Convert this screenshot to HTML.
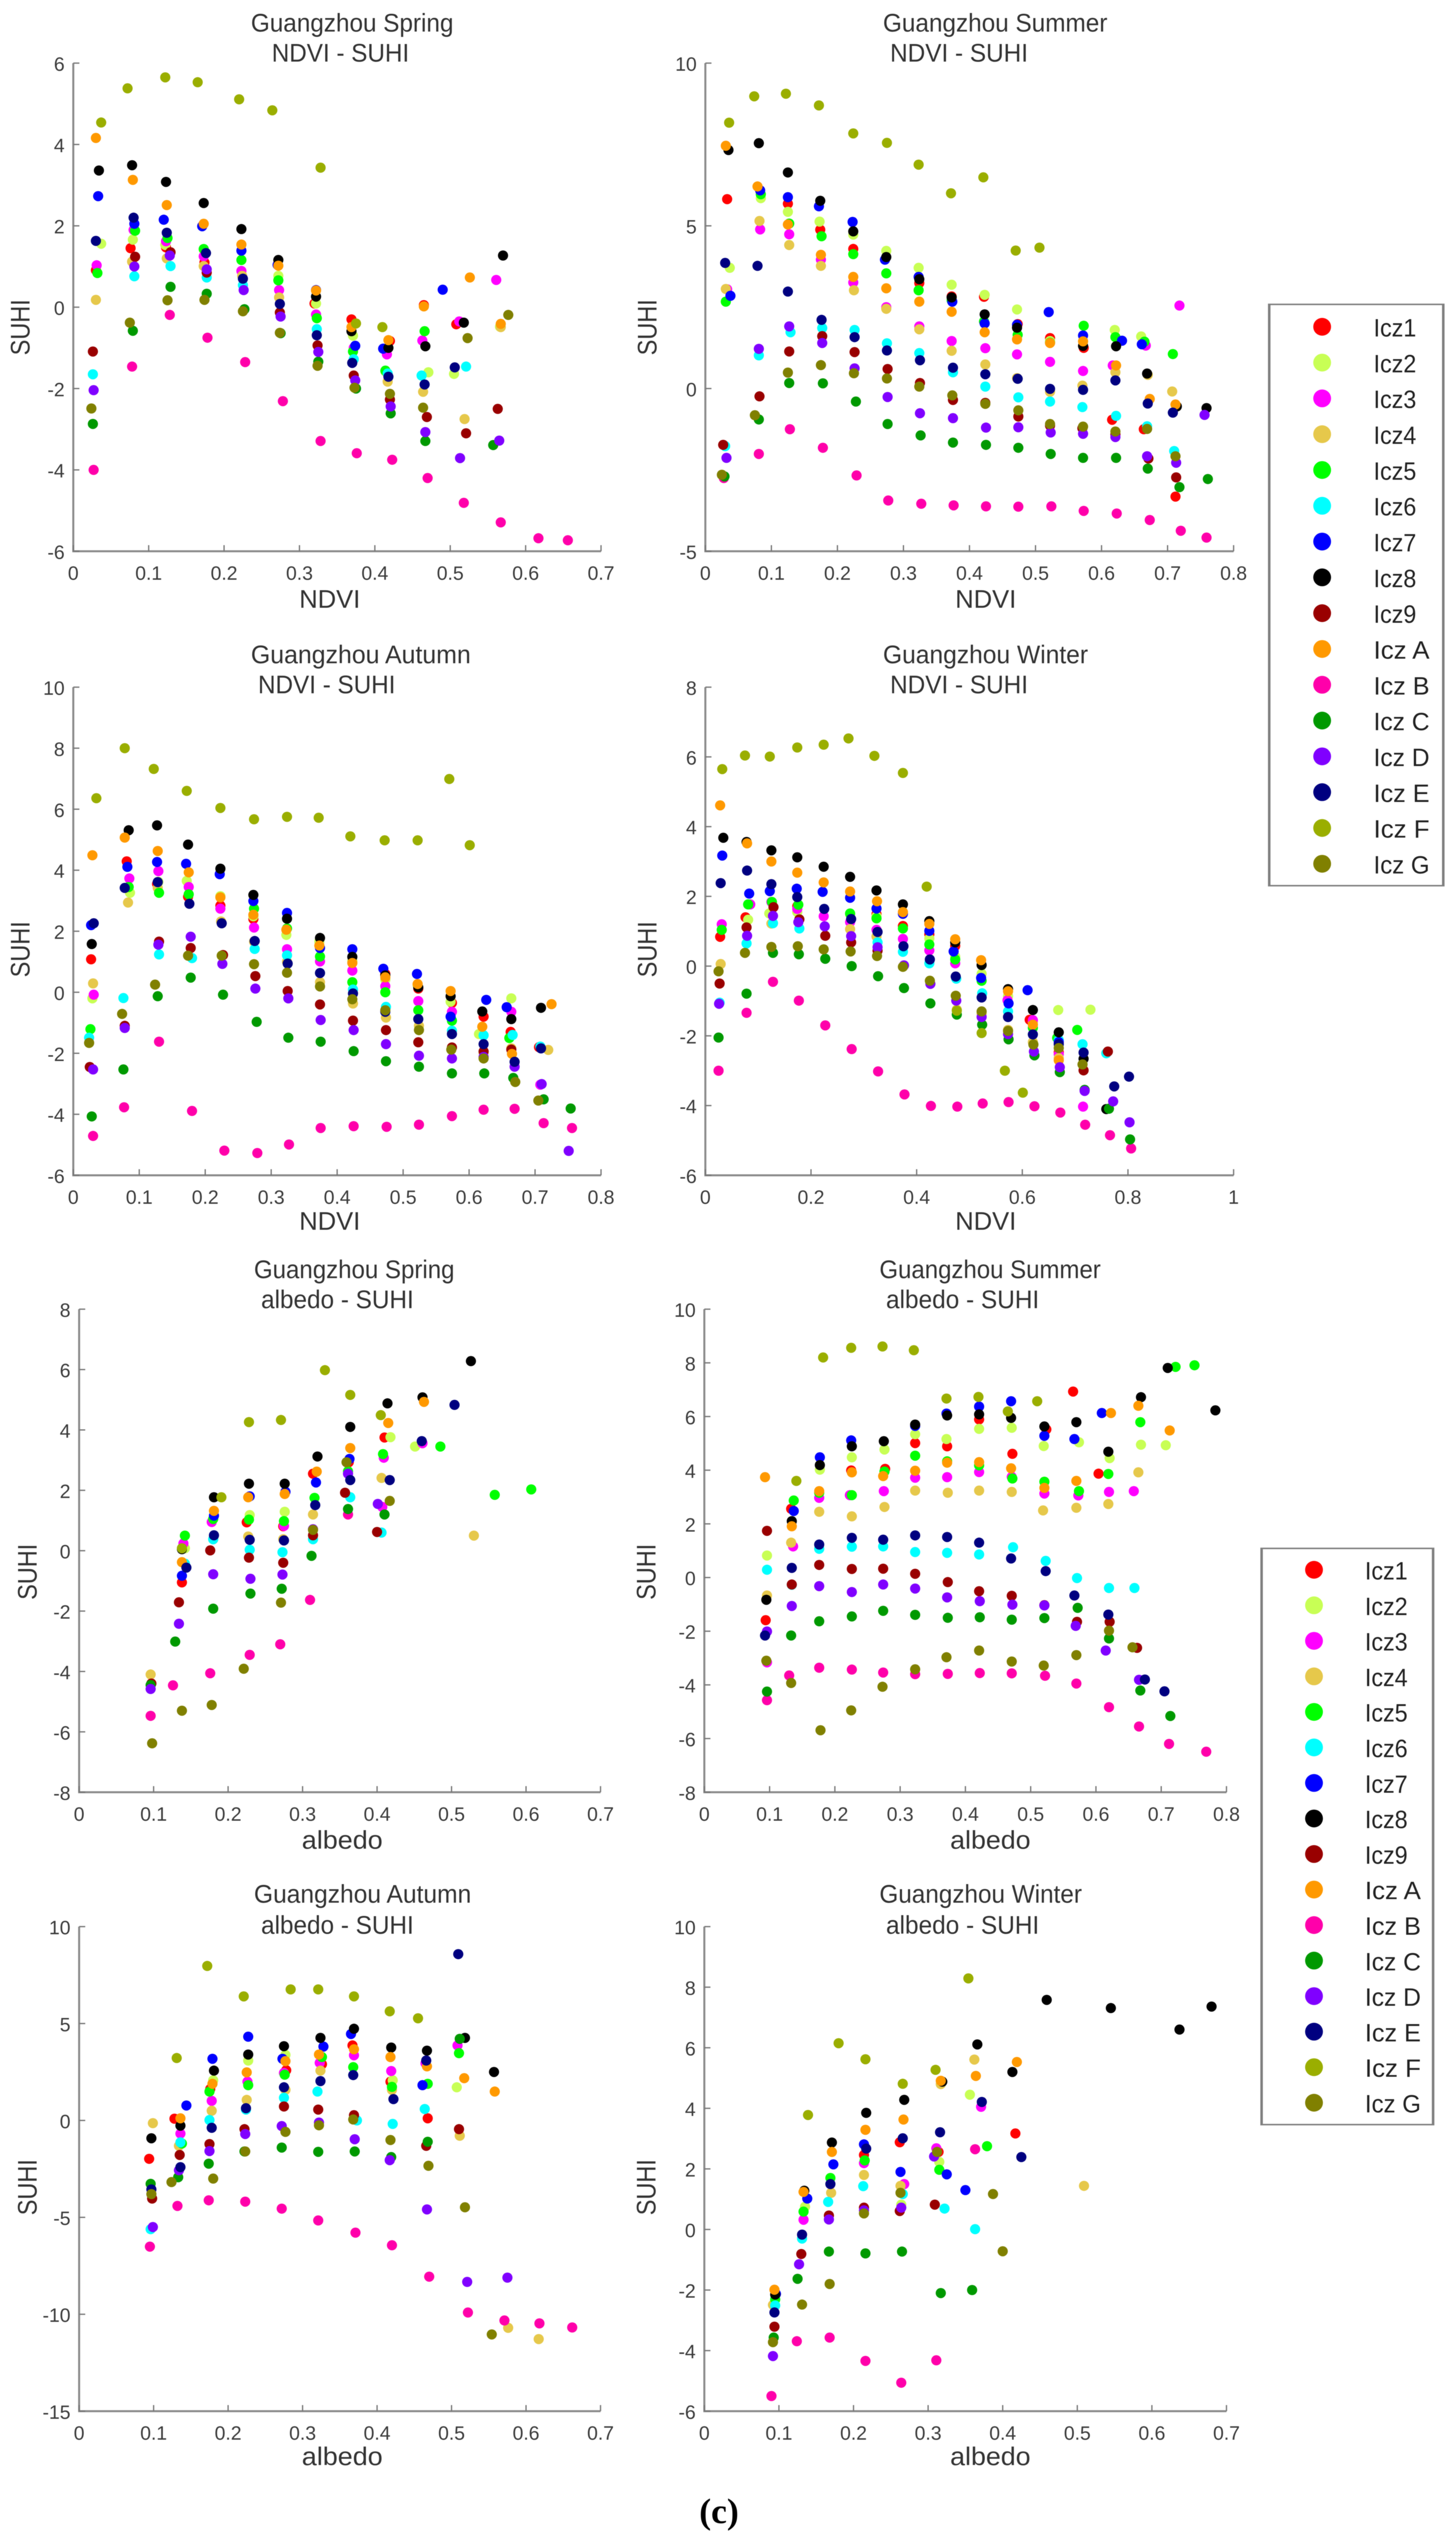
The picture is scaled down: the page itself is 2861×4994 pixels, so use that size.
<!DOCTYPE html>
<html lang="en">
<head>
<meta charset="utf-8">
<title>Guangzhou LCZ SUHI scatter plots</title>
<style>
html,body{margin:0;padding:0;background:#fff;}
svg{display:block;filter:blur(0.6px);}
text{font-family:"Liberation Sans",Arial,sans-serif;fill:#333;}
.title{font-size:50px;}
.axis-label{font-size:50px;}
.y-label{font-size:53px;}
.tick-label{font-size:38px;fill:#3c3c3c;}
.legend-label{font-size:49px;fill:#222;}
.caption{font-family:"Liberation Serif",serif;font-weight:bold;font-size:70px;fill:#000;}
</style>
</head>
<body>
<svg id="figure" xmlns="http://www.w3.org/2000/svg" width="2861" height="4994" viewBox="0 0 2861 4994">
<rect x="0" y="0" width="2861" height="4994" fill="#fff"/>

<g id="ndvi-spring">
<text class="title" x="493" y="62" textLength="398" lengthAdjust="spacingAndGlyphs">Guangzhou Spring</text>
<text class="title" x="534" y="121" textLength="270" lengthAdjust="spacingAndGlyphs">NDVI - SUHI</text>
<text class="axis-label" x="588" y="1194" textLength="120" lengthAdjust="spacingAndGlyphs">NDVI</text>
<text class="y-label" transform="translate(58,698) rotate(-90)" textLength="110" lengthAdjust="spacingAndGlyphs">SUHI</text>
</g>
<g id="ndvi-summer">
<text class="title" x="1735" y="62" textLength="441" lengthAdjust="spacingAndGlyphs">Guangzhou Summer</text>
<text class="title" x="1749" y="121" textLength="271" lengthAdjust="spacingAndGlyphs">NDVI - SUHI</text>
<text class="axis-label" x="1877" y="1194" textLength="120" lengthAdjust="spacingAndGlyphs">NDVI</text>
<text class="y-label" transform="translate(1290,698) rotate(-90)" textLength="110" lengthAdjust="spacingAndGlyphs">SUHI</text>
</g>
<g id="ndvi-autumn">
<text class="title" x="493" y="1303" textLength="432" lengthAdjust="spacingAndGlyphs">Guangzhou Autumn</text>
<text class="title" x="507" y="1362" textLength="270" lengthAdjust="spacingAndGlyphs">NDVI - SUHI</text>
<text class="axis-label" x="588" y="2416" textLength="120" lengthAdjust="spacingAndGlyphs">NDVI</text>
<text class="y-label" transform="translate(58,1920) rotate(-90)" textLength="110" lengthAdjust="spacingAndGlyphs">SUHI</text>
</g>
<g id="ndvi-winter">
<text class="title" x="1735" y="1303" textLength="403" lengthAdjust="spacingAndGlyphs">Guangzhou Winter</text>
<text class="title" x="1749" y="1362" textLength="271" lengthAdjust="spacingAndGlyphs">NDVI - SUHI</text>
<text class="axis-label" x="1877" y="2416" textLength="120" lengthAdjust="spacingAndGlyphs">NDVI</text>
<text class="y-label" transform="translate(1290,1920) rotate(-90)" textLength="110" lengthAdjust="spacingAndGlyphs">SUHI</text>
</g>
<g id="albedo-spring">
<text class="title" x="499" y="2511" textLength="394" lengthAdjust="spacingAndGlyphs">Guangzhou Spring</text>
<text class="title" x="513" y="2570" textLength="300" lengthAdjust="spacingAndGlyphs">albedo - SUHI</text>
<text class="axis-label" x="593" y="3632" textLength="159" lengthAdjust="spacingAndGlyphs">albedo</text>
<text class="y-label" transform="translate(72,3143) rotate(-90)" textLength="110" lengthAdjust="spacingAndGlyphs">SUHI</text>
</g>
<g id="albedo-summer">
<text class="title" x="1728" y="2511" textLength="435" lengthAdjust="spacingAndGlyphs">Guangzhou Summer</text>
<text class="title" x="1741" y="2570" textLength="301" lengthAdjust="spacingAndGlyphs">albedo - SUHI</text>
<text class="axis-label" x="1867" y="3632" textLength="158" lengthAdjust="spacingAndGlyphs">albedo</text>
<text class="y-label" transform="translate(1288,3143) rotate(-90)" textLength="110" lengthAdjust="spacingAndGlyphs">SUHI</text>
</g>
<g id="albedo-autumn">
<text class="title" x="499" y="3738" textLength="427" lengthAdjust="spacingAndGlyphs">Guangzhou Autumn</text>
<text class="title" x="513" y="3799" textLength="300" lengthAdjust="spacingAndGlyphs">albedo - SUHI</text>
<text class="axis-label" x="593" y="4843" textLength="159" lengthAdjust="spacingAndGlyphs">albedo</text>
<text class="y-label" transform="translate(72,4352) rotate(-90)" textLength="110" lengthAdjust="spacingAndGlyphs">SUHI</text>
</g>
<g id="albedo-winter">
<text class="title" x="1728" y="3738" textLength="398" lengthAdjust="spacingAndGlyphs">Guangzhou Winter</text>
<text class="title" x="1741" y="3799" textLength="301" lengthAdjust="spacingAndGlyphs">albedo - SUHI</text>
<text class="axis-label" x="1867" y="4843" textLength="158" lengthAdjust="spacingAndGlyphs">albedo</text>
<text class="y-label" transform="translate(1288,4352) rotate(-90)" textLength="110" lengthAdjust="spacingAndGlyphs">SUHI</text>
</g>

<g id="legend-top"></g>
<g id="legend-bottom"></g>
<text class="caption" x="1374" y="4957">(c)</text>
</svg>

<script>
const seriesNames = ["Icz1","Icz2","Icz3","Icz4","Icz5","Icz6","Icz7","Icz8","Icz9","Icz A","Icz B","Icz C","Icz D","Icz E","Icz F","Icz G"];
const seriesColors = ["#ff0000","#c8ff55","#ff00ff","#e6c84b","#00ff00","#00ffff","#0000ff","#000000","#990000","#ff9900","#ff00aa","#009900","#8000ff","#000080","#9aae00","#808000"];

const ticks0to7 = [0,0.1,0.2,0.3,0.4,0.5,0.6,0.7];
const ticks0to8 = [0,0.1,0.2,0.3,0.4,0.5,0.6,0.7,0.8];
const ticks0to1 = [0,0.2,0.4,0.6,0.8,1];
const yTicksSpringNdvi = [-6,-4,-2,0,2,4,6];
const yTicksSummerNdvi = [-5,0,5,10];
const yTicksAutumnNdvi = [-6,-4,-2,0,2,4,6,8,10];
const yTicksWinterNdvi = [-6,-4,-2,0,2,4,6,8];
const yTicksSpringAlbedo = [-8,-6,-4,-2,0,2,4,6,8];
const yTicksSummerAlbedo = [-8,-6,-4,-2,0,2,4,6,8,10];
const yTicksAutumnAlbedo = [-15,-10,-5,0,5,10];
const yTicksWinterAlbedo = [-6,-4,-2,0,2,4,6,8,10];

/* Each data array lists one [x, SUHI] list per series, in seriesNames order. */
const ndviSpring = [
[[.03,.91],[.076,1.45],[.123,1.47],[.174,1.1],[.32,.09],[.369,-.3],[.42,-.83],[.465,.05],[.508,-.42]],
[[.037,1.56],[.079,1.66],[.122,1.53],[.173,1.42],[.272,.77],[.322,.09],[.371,-.7],[.414,-1.58],[.471,-1.6],[.505,-1.64],[.566,-.48]],
[[.031,1.03],[.08,1.9],[.123,1.62],[.173,1.25],[.223,.89],[.273,.42],[.322,-.18],[.372,-1],[.416,-1.16],[.463,-.82],[.512,-.35],[.561,.67]],
[[.03,.18],[.078,1.12],[.124,1.2],[.173,1.01],[.224,.77],[.273,.24],[.417,-1.83],[.464,-2.08],[.519,-2.75],[.567,-.49]],
[[.032,.84],[.082,1.88],[.125,1.7],[.173,1.43],[.223,1.16],[.272,.66],[.323,-.27],[.371,-1.09],[.414,-1.56],[.466,-.59]],
[[.026,-1.65],[.081,.76],[.129,1.01],[.177,.73],[.225,.54],[.323,-.54],[.372,-1.28],[.417,-1.63],[.462,-1.68],[.521,-1.46]],
[[.033,2.73],[.081,2.05],[.12,2.15],[.171,1.99],[.223,1.39],[.271,1.04],[.322,.42],[.374,-.95],[.411,-1.02],[.49,.43]],
[[.034,3.36],[.078,3.49],[.123,3.08],[.173,2.56],[.223,1.92],[.272,1.16],[.322,.26],[.369,-.59],[.418,-1],[.467,-.96],[.518,-.38],[.57,1.27]],
[[.026,-1.09],[.082,1.24],[.129,1.35],[.177,.85],[.274,-.13],[.324,-.94],[.372,-1.68],[.42,-2.27],[.469,-2.7],[.521,-3.1],[.563,-2.5]],
[[.03,4.16],[.079,3.13],[.124,2.51],[.173,2.05],[.223,1.54],[.272,1.02],[.322,.41],[.369,-.49],[.418,-.81],[.465,.02],[.526,.73],[.567,-.41]],
[[.027,-4],[.078,-1.46],[.128,-.19],[.178,-.75],[.228,-1.35],[.278,-2.31],[.328,-3.29],[.376,-3.59],[.423,-3.75],[.47,-4.2],[.518,-4.81],[.567,-5.29],[.617,-5.68],[.656,-5.73]],
[[.026,-2.87],[.079,-.58],[.129,.5],[.177,.33],[.227,-.05],[.275,-.64],[.325,-1.34],[.375,-2],[.421,-2.61],[.467,-3.29],[.557,-3.39]],
[[.027,-2.04],[.081,1],[.128,1.27],[.177,.93],[.226,.42],[.275,-.23],[.325,-1.1],[.374,-1.8],[.421,-2.44],[.467,-3.07],[.513,-3.71],[.565,-3.28]],
[[.03,1.63],[.08,2.2],[.124,1.83],[.176,1.33],[.225,.7],[.274,.08],[.323,-.69],[.37,-1.37],[.418,-1.71],[.466,-1.9],[.506,-1.48]],
[[.037,4.54],[.072,5.38],[.122,5.65],[.165,5.53],[.22,5.11],[.264,4.84],[.328,3.43],[.375,-.4],[.41,-.49]],
[[.024,-2.49],[.075,-.38],[.125,.17],[.174,.18],[.225,-.1],[.274,-.63],[.324,-1.44],[.373,-1.98],[.42,-2.13],[.464,-2.47],[.523,-.76],[.577,-.19]]
];
const ndviSummer = [
[[.033,5.82],[.125,5.68],[.174,4.88],[.224,4.29],[.324,3.24],[.373,2.83],[.422,2.82],[.473,1.98],[.522,1.55],[.573,1.25],[.616,-.96],[.664,-1.25],[.712,-3.32]],
[[.037,3.71],[.084,5.85],[.125,5.43],[.173,5.13],[.224,4.73],[.274,4.23],[.323,3.71],[.373,3.19],[.423,2.88],[.472,2.43],[.522,1.46],[.62,1.8],[.66,1.6]],
[[.033,3.05],[.083,4.89],[.127,4.74],[.175,3.96],[.224,3.26],[.274,2.5],[.324,1.91],[.373,1.46],[.424,1.24],[.472,1.05],[.522,.82],[.572,.54],[.617,.71],[.667,1.32],[.718,2.55]],
[[.031,3.06],[.082,5.15],[.127,4.41],[.175,3.77],[.225,3.02],[.274,2.45],[.324,1.82],[.373,1.16],[.424,.74],[.472,.32],[.522,-.1],[.571,.09],[.621,.5],[.67,.42],[.707,-.09]],
[[.031,2.67],[.084,5.97],[.127,5.07],[.176,4.68],[.224,4.13],[.274,3.54],[.323,3.02],[.373,2.71],[.422,2.06],[.473,1.65],[.522,1.41],[.573,1.93],[.621,1.58],[.665,1.44],[.708,1.06]],
[[.03,-1.77],[.081,1.02],[.129,1.73],[.177,1.86],[.226,1.8],[.275,1.39],[.324,1.09],[.375,.5],[.424,.06],[.474,-.27],[.522,-.4],[.571,-.57],[.622,-.84],[.669,-1.16],[.71,-1.92]],
[[.038,2.85],[.083,6.09],[.125,5.88],[.172,5.6],[.223,5.12],[.272,3.96],[.323,3.43],[.374,2.67],[.423,2],[.472,1.96],[.52,2.35],[.572,1.63],[.631,1.47],[.661,1.36]],
[[.035,7.33],[.081,7.54],[.125,6.64],[.174,5.77],[.224,4.83],[.274,4.04],[.324,3.36],[.373,2.8],[.423,2.28],[.472,1.87],[.572,1.31],[.622,1.3],[.669,.46],[.714,-.55],[.759,-.6]],
[[.027,-1.73],[.082,-.24],[.127,1.14],[.177,1.61],[.226,1.12],[.276,.6],[.325,.17],[.375,-.35],[.424,-.44],[.474,-.86],[.522,-1.14],[.571,-1.22],[.621,-1.41],[.671,-2.15],[.713,-2.73]],
[[.031,7.46],[.079,6.21],[.125,5.04],[.175,4.11],[.224,3.43],[.274,3.08],[.324,2.67],[.373,2.36],[.423,1.73],[.472,1.51],[.522,1.4],[.572,1.45],[.622,.71],[.673,-.32],[.712,-.49]],
[[.028,-2.75],[.081,-2.01],[.128,-1.25],[.178,-1.82],[.229,-2.67],[.277,-3.44],[.327,-3.54],[.376,-3.59],[.425,-3.62],[.474,-3.63],[.524,-3.62],[.573,-3.76],[.623,-3.84],[.673,-4.04],[.72,-4.37],[.759,-4.58]],
[[.029,-2.7],[.081,-.95],[.127,.17],[.178,.16],[.228,-.4],[.276,-1.09],[.326,-1.44],[.375,-1.66],[.425,-1.73],[.474,-1.82],[.523,-2.01],[.572,-2.13],[.622,-2.13],[.67,-2.46],[.718,-3.03],[.761,-2.78]],
[[.032,-2.13],[.081,1.22],[.127,1.91],[.177,1.4],[.226,.62],[.276,-.26],[.325,-.76],[.375,-.91],[.425,-1.2],[.474,-1.19],[.523,-1.35],[.572,-1.39],[.621,-1.49],[.669,-2.08],[.713,-2.28],[.756,-.81]],
[[.03,3.86],[.079,3.77],[.125,2.98],[.176,2.11],[.226,1.58],[.275,1.17],[.325,.87],[.375,.64],[.424,.44],[.473,.3],[.522,-.01],[.572,-.04],[.621,.25],[.67,-.46],[.708,-.74]],
[[.036,8.17],[.074,8.98],[.122,9.06],[.172,8.7],[.224,7.84],[.275,7.55],[.323,6.88],[.372,6],[.421,6.49],[.47,4.24],[.506,4.33]],
[[.025,-2.65],[.075,-.82],[.125,.49],[.175,.72],[.225,.47],[.275,.31],[.324,.06],[.374,-.21],[.424,-.47],[.474,-.67],[.522,-1.09],[.572,-1.17],[.621,-1.32],[.669,-1.24],[.712,-2.08]]
];
const ndviAutumn = [
[[.027,1.08],[.081,4.29],[.127,3.55],[.174,3.13],[.223,2.84],[.273,2.4],[.473,.6],[.523,.12],[.574,-.35],[.622,-.8],[.663,-1.3],[.706,-1.8]],
[[.029,-.2],[.086,3.26],[.129,3.62],[.172,3.65],[.223,3.15],[.273,2.49],[.323,1.88],[.373,1.66],[.423,1.02],[.473,.41],[.522,.23],[.572,-.31],[.615,-1.37],[.664,-.2]],
[[.031,-.08],[.085,3.73],[.129,3.97],[.175,3.45],[.223,2.74],[.274,2.12],[.324,1.41],[.374,1.01],[.423,.71],[.473,.2],[.523,-.29],[.574,-.64],[.664,-.64],[.708,-3.03]],
[[.03,.29],[.083,2.94],[.128,3.42],[.224,2.32],[.274,1.66],[.324,1],[.374,.33],[.424,-.37],[.474,-.83],[.524,-1.1],[.574,-1.81],[.622,-1.97],[.664,-1.84],[.72,-1.89]],
[[.026,-1.21],[.084,3.45],[.13,3.26],[.175,3.21],[.274,2.74],[.324,2.09],[.374,1.17],[.423,.33],[.473,0],[.523,-.59],[.574,-.93],[.661,-1.5]],
[[.024,-1.49],[.076,-.19],[.13,1.24],[.18,1.12],[.275,1.42],[.324,1.21],[.424,.09],[.474,-.48],[.574,-1.26],[.622,-1.41],[.666,-1.4],[.708,-1.78]],
[[.027,2.2],[.082,4.11],[.127,4.27],[.171,4.21],[.222,3.87],[.273,2.99],[.324,2.6],[.374,1.45],[.423,1.41],[.47,.77],[.521,.6],[.572,-.8],[.626,-.25],[.657,-.49]],
[[.028,1.58],[.084,5.31],[.127,5.47],[.174,4.84],[.223,4.05],[.273,3.19],[.324,2.41],[.374,1.78],[.423,1.16],[.473,.55],[.523,.16],[.572,-.13],[.62,-.63],[.664,-.88],[.709,-.51]],
[[.025,-2.45],[.078,-1.1],[.13,1.66],[.178,1.45],[.227,1.22],[.276,.53],[.325,.04],[.374,-.4],[.424,-.93],[.474,-1.24],[.523,-1.64],[.574,-1.81],[.622,-1.94],[.664,-1.88]],
[[.029,4.49],[.078,5.07],[.128,4.63],[.175,3.93],[.223,3.11],[.273,2.54],[.323,2.05],[.373,1.53],[.423,.96],[.473,.49],[.522,.27],[.572,.04],[.62,-1.13],[.665,-2.02],[.725,-.39]],
[[.03,-4.71],[.077,-3.77],[.13,-1.62],[.18,-3.89],[.229,-5.19],[.279,-5.27],[.327,-4.99],[.375,-4.45],[.425,-4.39],[.475,-4.41],[.524,-4.34],[.574,-4.06],[.622,-3.85],[.669,-3.82],[.713,-4.29],[.756,-4.45]],
[[.028,-4.07],[.076,-2.53],[.128,-.13],[.178,.48],[.227,-.08],[.278,-.97],[.326,-1.49],[.375,-1.62],[.425,-1.93],[.474,-2.26],[.524,-2.44],[.574,-2.66],[.623,-2.66],[.667,-2.81],[.713,-3.51],[.754,-3.81]],
[[.03,-2.53],[.078,-1.17],[.129,1.56],[.178,1.82],[.226,.93],[.276,.12],[.326,-.2],[.375,-.91],[.425,-1.24],[.474,-1.7],[.524,-2.08],[.574,-2.17],[.622,-2.12],[.669,-2.44],[.71,-3.01],[.751,-5.2]],
[[.031,2.26],[.078,3.42],[.128,3.61],[.176,2.9],[.225,2.26],[.275,1.68],[.325,.94],[.374,.63],[.424,-.04],[.473,-.64],[.523,-.88],[.574,-1.37],[.622,-1.7],[.669,-2.28],[.709,-1.84]],
[[.035,6.36],[.078,8],[.122,7.32],[.172,6.6],[.223,6.04],[.274,5.67],[.324,5.75],[.372,5.72],[.42,5.11],[.472,4.98],[.522,4.98],[.57,6.99],[.601,4.82]],
[[.024,-1.66],[.074,-.71],[.124,.25],[.174,1.2],[.225,1.2],[.274,.92],[.324,.64],[.374,.19],[.423,-.23],[.473,-.59],[.524,-1.24],[.573,-1.88],[.622,-2.17],[.67,-2.94],[.705,-3.55]]
];
const ndviWinter = [
[[.028,.84],[.076,1.4],[.174,1.72],[.324,1.49],[.374,1.15],[.424,.91],[.473,.58],[.614,-1.54],[.669,-2.47]],
[[.081,1.33],[.121,1.51],[.174,1.55],[.274,1.49],[.324,1.43],[.424,.79],[.473,.27],[.523,-.22],[.573,-.86],[.62,-1.6],[.668,-1.26],[.729,-1.25]],
[[.031,1.2],[.085,1.77],[.125,1.84],[.174,1.64],[.224,1.43],[.274,1.26],[.324,1.04],[.374,.78],[.424,.45],[.473,.08],[.572,-.98],[.62,-1.55],[.669,-2.53],[.715,-4.03]],
[[.029,.06],[.125,1.22],[.274,1.06],[.324,.85],[.476,-1.25],[.523,-1.36],[.573,-1.83],[.62,-2.18],[.669,-2.64]],
[[.031,1.04],[.081,1.77],[.126,1.84],[.176,1.76],[.274,1.51],[.324,1.37],[.374,1.08],[.424,.62],[.473,.19],[.523,-.42],[.62,-1.77],[.666,-2.06],[.704,-1.83]],
[[.027,-1.05],[.078,.65],[.128,1.23],[.178,1.08],[.326,.68],[.374,.41],[.424,.08],[.475,-.36],[.524,-.78],[.573,-1.3],[.669,-2.12],[.714,-2.24],[.759,-2.5]],
[[.032,3.17],[.083,2.08],[.122,2.15],[.173,2.22],[.222,2.13],[.274,1.96],[.324,1.65],[.374,1.5],[.424,1.01],[.47,.42],[.522,-.34],[.574,-1.07],[.61,-.69],[.669,-2.18]],
[[.034,3.68],[.078,3.56],[.125,3.32],[.174,3.12],[.224,2.85],[.274,2.56],[.324,2.17],[.374,1.77],[.424,1.29],[.473,.68],[.523,.03],[.573,-.66],[.62,-1.26],[.669,-1.9],[.716,-2.66],[.759,-4.1]],
[[.027,-.5],[.078,1.11],[.129,1.69],[.178,1.34],[.227,.87],[.276,.68],[.326,.44],[.716,-2.99],[.762,-2.45]],
[[.028,4.61],[.079,3.52],[.125,3],[.174,2.68],[.224,2.4],[.274,2.14],[.325,1.86],[.374,1.55],[.424,1.21],[.473,.77],[.522,.17],[.573,-.72],[.62,-1.68],[.669,-2.7]],
[[.025,-3],[.078,-1.34],[.128,-.45],[.177,-.99],[.227,-1.7],[.277,-2.38],[.327,-3.02],[.377,-3.68],[.427,-4.01],[.477,-4.03],[.525,-3.94],[.574,-3.9],[.623,-4.02],[.672,-4.2],[.719,-4.55],[.766,-4.85],[.806,-5.23]],
[[.025,-2.05],[.078,-.79],[.128,.38],[.177,.34],[.227,.21],[.277,0],[.327,-.29],[.376,-.63],[.426,-1.07],[.476,-1.39],[.524,-1.68],[.574,-2.1],[.623,-2.56],[.671,-3.04],[.718,-3.55],[.764,-4.09],[.804,-4.97]],
[[.026,-1.08],[.079,.87],[.128,1.44],[.176,1.26],[.226,1.14],[.276,.86],[.326,.54],[.376,.02],[.426,-.51],[.475,-.99],[.523,-1.46],[.573,-1.95],[.622,-2.45],[.671,-2.9],[.718,-3.58],[.772,-3.88],[.803,-4.48]],
[[.029,2.38],[.079,2.74],[.125,2.35],[.174,1.98],[.225,1.64],[.276,1.35],[.326,.98],[.375,.57],[.425,.19],[.474,-.3],[.523,-.9],[.573,-1.46],[.62,-1.96],[.669,-2.24],[.716,-2.48],[.774,-3.45],[.802,-3.17]],
[[.032,5.65],[.075,6.04],[.122,6.01],[.174,6.27],[.224,6.35],[.271,6.53],[.32,6.03],[.374,5.54],[.419,2.28],[.476,-1.28],[.523,-1.92],[.567,-3],[.601,-3.63]],
[[.025,-.15],[.075,.38],[.125,.55],[.175,.57],[.224,.48],[.275,.42],[.325,.29],[.374,-.02],[.425,-.42],[.474,-.85],[.523,-1.3],[.573,-1.86],[.621,-2.25],[.669,-2.35],[.714,-2.82]]
];
const albedoSpring = [
[[.138,-1.05],[.225,.94],[.274,.81],[.314,2.55],[.362,2.93],[.41,3.75]],
[[.142,.08],[.229,1.18],[.276,1.29],[.418,3.76],[.451,3.45]],
[[.14,.24],[.178,.95],[.275,.82],[.407,1.45],[.409,3.08],[.461,3.56]],
[[.096,-4.1],[.18,.38],[.227,.47],[.274,.38],[.314,1.2],[.406,2.41],[.53,.5]],
[[.142,.5],[.18,1.05],[.228,1.03],[.275,.98],[.316,1.75],[.361,2.63],[.408,3.2],[.485,3.45],[.558,1.85],[.607,2.03]],
[[.142,-.43],[.18,.38],[.229,.03],[.273,-.05],[.314,.38],[.364,1.77],[.406,.6]],
[[.138,-.83],[.181,1.16],[.229,1.8],[.277,1.95],[.318,2.26],[.363,3.04]],
[[.138,.05],[.181,1.77],[.228,2.22],[.276,2.22],[.32,3.12],[.364,4.1],[.414,4.88],[.461,5.08],[.526,6.28]],
[[.097,-4.4],[.134,-1.71],[.176,.01],[.228,-.23],[.274,-.4],[.314,.51],[.357,1.92],[.4,.62]],
[[.138,-.38],[.181,1.32],[.227,1.77],[.276,1.88],[.319,2.62],[.364,3.4],[.415,4.23],[.463,4.93]],
[[.096,-5.47],[.126,-4.46],[.176,-4.06],[.229,-3.45],[.27,-3.1],[.31,-1.63],[.361,1.2]],
[[.096,-4.45],[.129,-3.01],[.18,-1.92],[.23,-1.42],[.272,-1.26],[.312,-.17],[.361,1.38],[.41,1.2]],
[[.096,-4.58],[.134,-2.42],[.18,-.78],[.23,-.93],[.273,-.79],[.314,.71],[.361,2.55],[.401,1.55]],
[[.144,-.56],[.181,.51],[.229,.36],[.275,.34],[.317,1.51],[.364,2.34],[.417,2.34],[.46,3.63],[.504,4.83]],
[[.138,.08],[.191,1.77],[.228,4.26],[.271,4.33],[.33,5.98],[.364,5.16],[.405,4.49]],
[[.098,-6.38],[.138,-5.3],[.178,-5.11],[.221,-3.91],[.271,-1.72],[.314,.69],[.359,2.93],[.417,1.65]]
];
const albedoSummer = [
[[.094,-1.59],[.133,2.56],[.225,3.99],[.277,4.05],[.323,5.01],[.372,4.89],[.421,5.89],[.472,4.61],[.524,5.52],[.565,6.93],[.604,3.87]],
[[.096,.82],[.177,4.02],[.226,4.48],[.276,4.77],[.323,5.34],[.371,5.16],[.421,5.54],[.471,5.58],[.52,4.9],[.574,5.04],[.621,4.45],[.669,4.95],[.707,4.93]],
[[.096,-3.16],[.136,1.16],[.176,2.97],[.223,3.07],[.275,3.22],[.323,3.72],[.372,3.74],[.421,3.93],[.471,3.75],[.521,3.13],[.573,3.06],[.62,3.19],[.658,3.22]],
[[.096,-.67],[.133,1.3],[.176,2.45],[.226,2.28],[.276,2.63],[.323,3.24],[.373,3.16],[.421,3.24],[.471,3.19],[.519,2.5],[.57,2.6],[.619,2.74],[.665,3.92]],
[[.137,2.87],[.176,3.16],[.226,3.07],[.276,3.95],[.323,4.54],[.372,4.33],[.421,4.18],[.472,3.69],[.521,3.57],[.574,3.22],[.619,3.86],[.668,5.79],[.722,7.85],[.751,7.91]],
[[.096,.29],[.134,-.27],[.176,1.07],[.226,1.15],[.274,1.16],[.323,.95],[.372,.92],[.421,.86],[.473,1.13],[.523,.62],[.571,-.02],[.62,-.39],[.659,-.39]],
[[.137,2.48],[.177,4.48],[.225,5.11],[.323,5.65],[.371,6.11],[.421,6.37],[.47,6.57],[.521,5.28],[.567,5.16],[.609,6.13]],
[[.095,-.83],[.134,2.1],[.177,4.19],[.226,4.89],[.275,5.08],[.323,5.7],[.372,6.04],[.421,6.08],[.47,5.95],[.521,5.63],[.57,5.79],[.619,4.69],[.669,6.72],[.71,7.81],[.783,6.23]],
[[.096,1.74],[.134,-.26],[.176,.47],[.226,.32],[.274,.33],[.323,.14],[.373,-.17],[.421,-.51],[.471,-.68],[.521,-1.03],[.571,-1.65],[.621,-1.65],[.663,-2.62]],
[[.093,3.74],[.134,1.91],[.176,3.22],[.226,3.92],[.274,3.78],[.323,3.98],[.372,4.28],[.421,4.3],[.47,4.07],[.521,3.34],[.57,3.6],[.623,6.13],[.665,6.4],[.713,5.48]],
[[.096,-4.57],[.13,-3.65],[.176,-3.36],[.226,-3.43],[.274,-3.54],[.323,-3.6],[.373,-3.59],[.422,-3.56],[.471,-3.57],[.522,-3.66],[.57,-3.95],[.62,-4.83],[.666,-5.55],[.712,-6.2],[.769,-6.49]],
[[.096,-4.25],[.133,-2.16],[.176,-1.63],[.226,-1.45],[.274,-1.24],[.323,-1.39],[.373,-1.5],[.422,-1.48],[.471,-1.57],[.521,-1.51],[.572,-1.13],[.62,-2.27],[.668,-4.21],[.714,-5.16]],
[[.096,-2.01],[.134,-1.06],[.176,-.32],[.226,-.54],[.274,-.26],[.323,-.41],[.372,-.74],[.422,-.88],[.472,-1.01],[.521,-1.04],[.569,-1.8],[.615,-2.72],[.666,-3.81]],
[[.093,-2.16],[.134,.36],[.176,1.23],[.226,1.48],[.274,1.41],[.323,1.57],[.372,1.51],[.421,1.3],[.47,.71],[.523,.24],[.567,-.67],[.619,-1.38],[.675,-3.8],[.705,-4.24]],
[[.141,3.6],[.182,8.2],[.225,8.56],[.273,8.61],[.321,8.47],[.371,6.67],[.42,6.73],[.465,6.19],[.51,6.57]],
[[.095,-3.1],[.133,-3.93],[.178,-5.69],[.225,-4.95],[.273,-4.07],[.323,-3.42],[.371,-2.97],[.421,-2.72],[.471,-3.13],[.52,-3.28],[.57,-2.89],[.62,-1.98],[.656,-2.6]]
];
const albedoAutumn = [
[[.094,-1.98],[.128,.09],[.176,1.62],[.278,2.59],[.326,2.9],[.367,3.87],[.418,2],[.468,.11]],
[[.18,2.07],[.227,3.09],[.277,3.38],[.421,2.07],[.507,1.71]],
[[.136,-.68],[.178,1.01],[.226,2],[.275,2.45],[.323,2.97],[.369,3.36],[.419,2.55],[.465,2.95],[.508,3.87]],
[[.099,-.14],[.134,-1.31],[.178,.5],[.225,1.06],[.277,1.58],[.324,2.57],[.42,1.58],[.511,-.79],[.576,-10.7],[.617,-11.28]],
[[.138,-1.19],[.175,1.49],[.227,1.82],[.276,2.36],[.326,3.27],[.368,2.75],[.42,1.73],[.468,1.89],[.51,3.47]],
[[.096,-5.61],[.136,-1.13],[.175,.02],[.224,.56],[.275,1.17],[.32,1.49],[.373,0],[.421,-.18],[.464,.59]],
[[.144,.77],[.179,3.18],[.227,4.32],[.273,3.18],[.328,3.81],[.365,4.46],[.461,1.82]],
[[.097,-.92],[.136,-.27],[.181,2.57],[.227,3.4],[.275,3.83],[.324,4.26],[.369,4.73],[.419,3.76],[.467,3.6],[.518,4.26],[.557,2.5]],
[[.098,-4.03],[.135,-1.78],[.175,-1.22],[.222,-.45],[.275,.72],[.321,.56],[.369,.27],[.466,-1.31],[.51,-.45]],
[[.136,.11],[.179,1.89],[.225,2.48],[.277,3.06],[.322,3.4],[.369,3.67],[.418,3.27],[.467,2.79],[.517,2.18],[.558,1.49]],
[[.095,-6.51],[.132,-4.41],[.174,-4.12],[.223,-4.19],[.272,-4.55],[.321,-5.16],[.371,-5.79],[.42,-6.44],[.47,-8.06],[.522,-9.91],[.571,-10.32],[.618,-10.47],[.662,-10.68]],
[[.096,-3.27],[.133,-2.93],[.174,-2.23],[.222,-1.6],[.272,-1.4],[.321,-1.62],[.37,-1.6],[.419,-1.89],[.468,-1.1],[.511,4.21]],
[[.099,-5.5],[.134,-2.57],[.175,-1.58],[.223,-.7],[.272,-.29],[.322,-.11],[.37,-.97],[.417,-2.05],[.467,-4.59],[.521,-8.33],[.575,-8.11]],
[[.097,-3.56],[.136,-2.41],[.178,-.38],[.224,.63],[.275,1.71],[.324,2.03],[.368,2.34],[.422,1.1],[.466,3.09],[.509,8.58]],
[[.131,3.22],[.172,7.97],[.221,6.4],[.284,6.76],[.321,6.76],[.369,6.4],[.417,5.63],[.455,5.27]],
[[.097,-3.8],[.124,-3.18],[.18,-3],[.223,-1.6],[.277,-.59],[.322,-.25],[.368,.05],[.418,-1.01],[.469,-2.34],[.518,-4.48],[.554,-11.04]]
];
const albedoWinter = [
[[.214,2.46],[.262,2.88],[.314,2.56],[.417,3.17]],
[[.135,.75],[.264,.82],[.315,2.23],[.356,4.45]],
[[.133,.32],[.214,2.19],[.268,1.5],[.311,2.68],[.371,4.05]],
[[.092,-2.49],[.17,1.21],[.214,1.8],[.263,1.44],[.317,4.8],[.362,5.61],[.509,1.44]],
[[.095,-2.31],[.133,.59],[.169,1.7],[.215,2.28],[.315,1.97],[.379,2.75]],
[[.095,-2.51],[.131,-.3],[.166,.91],[.213,1.43],[.266,1.17],[.322,.69],[.363,.01]],
[[.096,-2.13],[.138,1.02],[.173,2.15],[.214,2.81],[.263,1.9],[.325,1.82],[.35,1.3]],
[[.095,-2.15],[.134,1.28],[.171,2.87],[.217,3.85],[.268,4.28],[.319,4.88],[.366,6.11],[.413,5.2],[.459,7.58],[.545,7.31],[.637,6.6],[.68,7.36]],
[[.094,-3.21],[.13,-.81],[.167,.46],[.214,.72],[.262,.61],[.309,.82]],
[[.094,-1.99],[.133,1.24],[.171,2.56],[.216,3.29],[.267,3.63],[.317,4.91],[.364,5.07],[.419,5.53]],
[[.09,-5.5],[.124,-3.69],[.168,-3.57],[.216,-4.34],[.264,-5.06],[.311,-4.32],[.363,2.65]],
[[.093,-3.57],[.125,-1.63],[.167,-.73],[.216,-.79],[.265,-.73],[.317,-2.1],[.359,-2]],
[[.092,-4.18],[.127,-1.15],[.167,.33],[.214,.63],[.264,.72],[.308,2.41]],
[[.094,-2.74],[.131,-.17],[.169,1.5],[.217,2.67],[.266,3.01],[.316,3.21],[.372,4.21],[.425,2.39]],
[[.139,3.78],[.18,6.15],[.216,5.62],[.266,4.81],[.31,5.27],[.354,8.29]],
[[.092,-3.72],[.131,-2.48],[.168,-1.8],[.214,.53],[.263,1.21],[.312,2.56],[.387,1.17],[.4,-.72]]
];

const SVG_NS = "http://www.w3.org/2000/svg";
const POINT_RADIUS = 10;
const AXIS_COLOR = "#8c8c8c";
const TICK_COLOR = "#777777";

function makeEl(tag, attrs, parent) {
  const el = document.createElementNS(SVG_NS, tag);
  Object.keys(attrs).forEach(function (k) { el.setAttribute(k, attrs[k]); });
  parent.appendChild(el);
  return el;
}

function drawPanel(id, box, xDomain, yDomain, xTicks, yTicks, data) {
  const panel = document.getElementById(id);
  const xScale = function (v) { return box.left + (v - xDomain[0]) / (xDomain[1] - xDomain[0]) * (box.right - box.left); };
  const yScale = function (v) { return box.bottom - (v - yDomain[0]) / (yDomain[1] - yDomain[0]) * (box.bottom - box.top); };

  const xAxis = makeEl("line", {x1: box.left - 2, x2: box.right, y1: box.bottom, y2: box.bottom, stroke: AXIS_COLOR, "stroke-width": 4}, panel);
  
  
  const yAxis = makeEl("line", {x1: box.left, x2: box.left, y1: box.top, y2: box.bottom + 2, stroke: AXIS_COLOR, "stroke-width": 4}, panel);
  
  

  xTicks.forEach(function (t) {
    const x = xScale(t);
    const mark = makeEl("line", {x1: x, x2: x, y1: box.bottom, y2: box.bottom - 12, stroke: TICK_COLOR, "stroke-width": 2.5}, panel);
    
    
    const label = makeEl("text", {x: x, y: box.bottom + 56, "text-anchor": "middle", "class": "tick-label"}, panel);
    
    
    label.textContent = String(t);
  });
  yTicks.forEach(function (t) {
    const y = yScale(t);
    const mark = makeEl("line", {x1: box.left, x2: box.left + 12, y1: y, y2: y, stroke: TICK_COLOR, "stroke-width": 2.5}, panel);
    
    
    const label = makeEl("text", {x: box.left - 17, y: y + 15, "text-anchor": "end", "class": "tick-label"}, panel);
    
    
    label.textContent = String(t);
  });

  data.forEach(function (points, s) {
    points.forEach(function (p) {
      const dot = makeEl("circle", {cx: xScale(p[0]), cy: yScale(p[1]), r: POINT_RADIUS, fill: seriesColors[s]}, panel);
      
      
    });
  });
}

function drawLegend(id, box, markerX, textX, firstRowY, rowGap) {
  const g = document.getElementById(id);
  const frame = makeEl("rect", {x: box.left, y: box.top, width: box.right - box.left, height: box.bottom - box.top, fill: "#fff", stroke: "#808080", "stroke-width": 3}, g);
  
  
  [box.left + 1, box.right - 1].forEach(function (x) {
    const side = makeEl("line", {x1: x, x2: x, y1: box.top, y2: box.bottom, stroke: "#808080", "stroke-width": 5}, g);
    
    
  });
  seriesNames.forEach(function (name, i) {
    const y = firstRowY + i * rowGap;
    const marker = makeEl("circle", {cx: markerX, cy: y, r: 17.5, fill: seriesColors[i]}, g);
    
    
    const label = makeEl("text", {x: textX, y: y + 19, "class": "legend-label", textLength: name.length > 4 ? 110 : 84, lengthAdjust: "spacingAndGlyphs"}, g);
    
    
    label.textContent = name;
  });
}

const rowOneBox = {top: 124, bottom: 1083};
const rowTwoBox = {top: 1350, bottom: 2309};
const rowThreeBox = {top: 2572, bottom: 3521};
const rowFourBox = {top: 3785, bottom: 4737};

drawPanel("ndvi-spring", {left: 144, right: 1181, top: rowOneBox.top, bottom: rowOneBox.bottom}, [0, .7], [-6, 6], ticks0to7, yTicksSpringNdvi, ndviSpring);
drawPanel("ndvi-summer", {left: 1386, right: 2424, top: rowOneBox.top, bottom: rowOneBox.bottom}, [0, .8], [-5, 10], ticks0to8, yTicksSummerNdvi, ndviSummer);
drawPanel("ndvi-autumn", {left: 144, right: 1181, top: rowTwoBox.top, bottom: rowTwoBox.bottom}, [0, .8], [-6, 10], ticks0to8, yTicksAutumnNdvi, ndviAutumn);
drawPanel("ndvi-winter", {left: 1386, right: 2424, top: rowTwoBox.top, bottom: rowTwoBox.bottom}, [0, 1], [-6, 8], ticks0to1, yTicksWinterNdvi, ndviWinter);
drawPanel("albedo-spring", {left: 155.5, right: 1180, top: rowThreeBox.top, bottom: rowThreeBox.bottom}, [0, .7], [-8, 8], ticks0to7, yTicksSpringAlbedo, albedoSpring);
drawPanel("albedo-summer", {left: 1384, right: 2410, top: rowThreeBox.top, bottom: rowThreeBox.bottom}, [0, .8], [-8, 10], ticks0to8, yTicksSummerAlbedo, albedoSummer);
drawPanel("albedo-autumn", {left: 155.5, right: 1180, top: rowFourBox.top, bottom: rowFourBox.bottom}, [0, .7], [-15, 10], ticks0to7, yTicksAutumnAlbedo, albedoAutumn);
drawPanel("albedo-winter", {left: 1384, right: 2410, top: rowFourBox.top, bottom: rowFourBox.bottom}, [0, .7], [-6, 10], ticks0to7, yTicksWinterAlbedo, albedoWinter);

drawLegend("legend-top", {left: 2493, right: 2837, top: 598, bottom: 1740}, 2598, 2699, 642, 70.33);
drawLegend("legend-bottom", {left: 2478, right: 2817, top: 3042, bottom: 4174}, 2582, 2682, 3084, 69.8);
</script>
</body>
</html>
